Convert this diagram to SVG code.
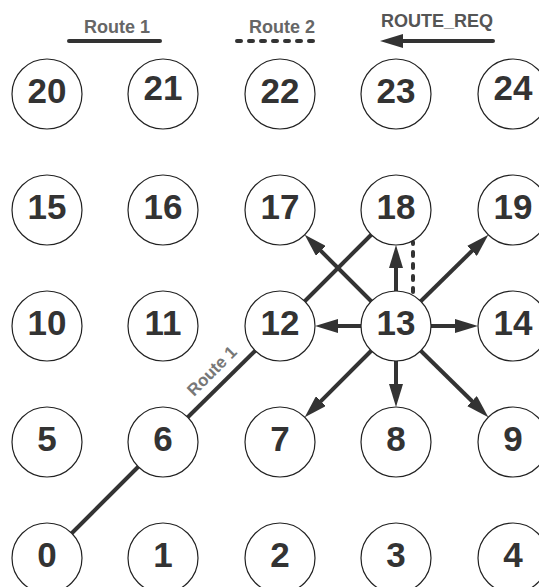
<svg xmlns="http://www.w3.org/2000/svg" width="539" height="587" viewBox="0 0 539 587">
<defs>
<style>
.node circle{fill:#fff;stroke:#222;stroke-width:1.2}
.node text{font-family:"Liberation Sans",Arial,sans-serif;font-weight:bold;font-size:35px;fill:#333;text-anchor:middle}
.legend{font-family:"Liberation Sans",Arial,sans-serif;font-weight:bold;font-size:18px;fill:#666;text-anchor:middle}
.route1{stroke:#333;stroke-width:4;fill:none}
.route2{stroke:#333;stroke-width:4;fill:none;stroke-dasharray:4 8;stroke-linecap:round}
.req{stroke:#333;stroke-width:4;fill:none;marker-end:url(#ah)}
</style>
<marker id="ah" markerUnits="userSpaceOnUse" viewBox="0 0 23 14" refX="11" refY="7" markerWidth="23" markerHeight="14" orient="auto">
<path d="M0,0 L23,7 L0,14 z" fill="#333"/>
</marker>
</defs>
<rect width="539" height="587" fill="#fff"/>
<g id="legend">
<text class="legend" x="117" y="33">Route 1</text>
<line x1="69" y1="41" x2="160" y2="41" stroke="#333" stroke-width="4" stroke-linecap="round"/>
<text class="legend" x="282" y="33">Route 2</text>
<line class="route2" x1="237" y1="41" x2="321" y2="41"/>
<text class="legend" x="437" y="27" style="fill:#555">ROUTE_REQ</text>
<line class="req" x1="493" y1="41" x2="392" y2="41" stroke-linecap="round"/>
</g>
<g id="connectors">
<line class="route1" x1="71.75" y1="533.25" x2="138.25" y2="466.75"/>
<line class="route1" x1="187.75" y1="417.25" x2="255.25" y2="350.75"/>
<line class="route1" x1="304.75" y1="301.25" x2="371.25" y2="234.75"/>
<text transform="translate(216,375) rotate(-45)" style="font-family:'Liberation Sans',Arial,sans-serif;font-weight:bold;font-size:17px;fill:#777;text-anchor:middle">Route 1</text>
<line class="route2" x1="413" y1="292" x2="413" y2="242"/>
<line class="req" x1="361" y1="326" x2="327" y2="326"/>
<line class="req" x1="431" y1="326" x2="466" y2="326"/>
<line class="req" x1="396" y1="291" x2="396" y2="257"/>
<line class="req" x1="396" y1="361" x2="396" y2="395"/>
<line class="req" x1="371.25" y1="301.25" x2="313.2" y2="243.2"/>
<line class="req" x1="420.75" y1="301.25" x2="479.8" y2="243.2"/>
<line class="req" x1="371.25" y1="350.75" x2="313.2" y2="408.8"/>
<line class="req" x1="420.75" y1="350.75" x2="479.8" y2="408.8"/>
</g>
<g id="n0" class="node"><circle cx="47" cy="558" r="35"/><text x="47" y="567">0</text></g>
<g id="n1" class="node"><circle cx="163" cy="558" r="35"/><text x="163" y="567">1</text></g>
<g id="n2" class="node"><circle cx="280" cy="558" r="35"/><text x="280" y="567">2</text></g>
<g id="n3" class="node"><circle cx="396" cy="558" r="35"/><text x="396" y="567">3</text></g>
<g id="n4" class="node"><circle cx="513" cy="558" r="35"/><text x="513" y="567">4</text></g>
<g id="n5" class="node"><circle cx="47" cy="442" r="35"/><text x="47" y="451">5</text></g>
<g id="n6" class="node"><circle cx="163" cy="442" r="35"/><text x="163" y="451">6</text></g>
<g id="n7" class="node"><circle cx="280" cy="442" r="35"/><text x="280" y="451">7</text></g>
<g id="n8" class="node"><circle cx="396" cy="442" r="35"/><text x="396" y="451">8</text></g>
<g id="n9" class="node"><circle cx="513" cy="442" r="35"/><text x="513" y="451">9</text></g>
<g id="n10" class="node"><circle cx="47" cy="326" r="35"/><text x="47" y="335">10</text></g>
<g id="n11" class="node"><circle cx="163" cy="326" r="35"/><text x="163" y="335">11</text></g>
<g id="n12" class="node"><circle cx="280" cy="326" r="35"/><text x="280" y="335">12</text></g>
<g id="n13" class="node"><circle cx="396" cy="326" r="35"/><text x="396" y="335">13</text></g>
<g id="n14" class="node"><circle cx="513" cy="326" r="35"/><text x="513" y="335">14</text></g>
<g id="n15" class="node"><circle cx="47" cy="210" r="35"/><text x="47" y="219">15</text></g>
<g id="n16" class="node"><circle cx="163" cy="210" r="35"/><text x="163" y="219">16</text></g>
<g id="n17" class="node"><circle cx="280" cy="210" r="35"/><text x="280" y="219">17</text></g>
<g id="n18" class="node"><circle cx="396" cy="210" r="35"/><text x="396" y="219">18</text></g>
<g id="n19" class="node"><circle cx="513" cy="210" r="35"/><text x="513" y="219">19</text></g>
<g id="n20" class="node"><circle cx="47" cy="94" r="35"/><text x="47" y="103">20</text></g>
<g id="n21" class="node"><circle cx="163" cy="94" r="35"/><text x="163" y="100">21</text></g>
<g id="n22" class="node"><circle cx="280" cy="94" r="35"/><text x="280" y="103">22</text></g>
<g id="n23" class="node"><circle cx="396" cy="94" r="35"/><text x="396" y="103">23</text></g>
<g id="n24" class="node"><circle cx="513" cy="94" r="35"/><text x="513" y="100">24</text></g>
</svg>
